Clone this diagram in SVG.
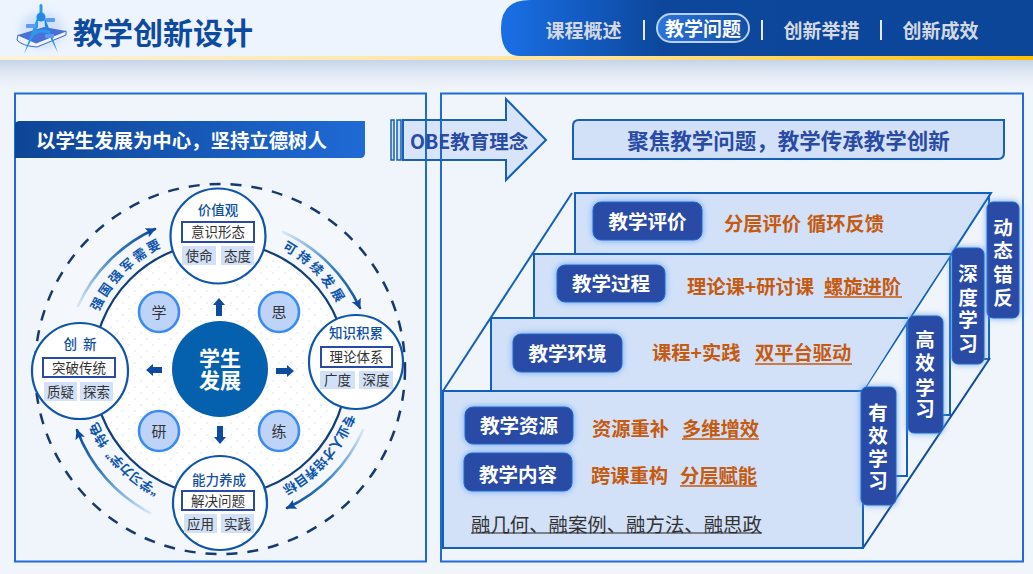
<svg xmlns="http://www.w3.org/2000/svg" xmlns:xlink="http://www.w3.org/1999/xlink" width="1033" height="574" viewBox="0 0 1033 574">
<style>
text{font-family:"Noto Sans CJK SC","Noto Sans",sans-serif;dominant-baseline:central;transform:translateY(-1px)}
.m{text-anchor:middle}
.nav{font-size:19px;font-weight:700;fill:#d3d8e2;text-anchor:middle}
.sep{stroke:#e4ecf8;stroke-width:2}
.panel{fill:none;stroke:#1f6ad6;stroke-width:2}
.face{fill:#d2e1f8;stroke:none}
.edge{fill:none;stroke:#1160bb;stroke-width:2}
.tag{fill:#2a4ba5;stroke:#1f6ac8;stroke-width:1;filter:url(#glow)}
.tagt{font-size:19.5px;font-weight:700;fill:#fff;text-anchor:middle}
.or{font-size:19.3px;font-weight:700;fill:#c55a11}
.orl{stroke:#c55a11;stroke-width:1.4}
.node{fill:#fff;stroke:#0e55ac;stroke-width:2.2}
.nt{font-size:13.5px;font-weight:500;fill:#0e4fa8;text-anchor:middle}
.box{fill:#fff;stroke:#2a4ba5;stroke-width:2}
.bt{font-size:13.5px;fill:#333;text-anchor:middle}
.chip{fill:#d2e1f8}
.small{fill:#bdd4f8;stroke:#3b8bf5;stroke-width:2.6}
.st{font-size:15px;fill:#333;text-anchor:middle}
.ar{fill:#0e4a9e}
.ring{font-size:13px;font-weight:700;fill:#0e55ac}
.arc{fill:none;stroke-width:2.6;stroke-linecap:round;marker-end:url(#head)}
</style>
<defs>
<linearGradient id="nav" x1="0" x2="1" y1="0" y2="0"><stop offset="0" stop-color="#1a6fe6"/><stop offset=".3" stop-color="#0c479c"/><stop offset="1" stop-color="#0c4699"/></linearGradient>
<linearGradient id="gold" x1="0" x2="1" y1="0" y2="0"><stop offset="0" stop-color="#fdf2d8"/><stop offset=".6" stop-color="#ffe195"/><stop offset="1" stop-color="#ffc000"/></linearGradient>
<linearGradient id="shade" x1="0" x2="0" y1="0" y2="1"><stop offset="0" stop-color="#c5d4e8"/><stop offset="1" stop-color="#f0f4fb" stop-opacity="0"/></linearGradient>
<linearGradient id="ban" x1="0" x2="1" y1="0" y2="0"><stop offset="0" stop-color="#0e4596"/><stop offset="1" stop-color="#1f6ad5"/></linearGradient>
<linearGradient id="pill" x1="0" x2="1" y1="0" y2="0"><stop offset="0" stop-color="#2c74da"/><stop offset="1" stop-color="#124fa6"/></linearGradient>
<linearGradient id="a1" gradientUnits="userSpaceOnUse" x1="78" y1="306" x2="155" y2="229"><stop offset="0" stop-color="#d6e8f8"/><stop offset=".6" stop-color="#2f7abf"/><stop offset="1" stop-color="#0e4a9e"/></linearGradient>
<linearGradient id="a2" gradientUnits="userSpaceOnUse" x1="283" y1="232" x2="360" y2="308"><stop offset="0" stop-color="#d6e8f8"/><stop offset=".6" stop-color="#2f7abf"/><stop offset="1" stop-color="#0e4a9e"/></linearGradient>
<linearGradient id="a3" gradientUnits="userSpaceOnUse" x1="363" y1="430" x2="287" y2="508"><stop offset="0" stop-color="#d6e8f8"/><stop offset=".6" stop-color="#2f7abf"/><stop offset="1" stop-color="#0e4a9e"/></linearGradient>
<linearGradient id="a4" gradientUnits="userSpaceOnUse" x1="150" y1="513" x2="77" y2="430"><stop offset="0" stop-color="#d6e8f8"/><stop offset=".6" stop-color="#2f7abf"/><stop offset="1" stop-color="#0e4a9e"/></linearGradient>
<pattern id="dots" width="12" height="12" patternUnits="userSpaceOnUse"><rect width="12" height="12" fill="#fff"/><circle cx="3" cy="3" r=".8" fill="#d3e1f3"/><circle cx="9" cy="9" r=".8" fill="#d3e1f3"/></pattern>
<filter id="glow" x="-30%" y="-30%" width="160%" height="160%"><feDropShadow dx="0" dy="0" stdDeviation="3" flood-color="#5b9cf5" flood-opacity=".9"/></filter>
<filter id="blur" x="-30%" y="-30%" width="160%" height="160%"><feGaussianBlur stdDeviation="4"/></filter>
<marker id="head" markerUnits="userSpaceOnUse" markerWidth="14" markerHeight="12" refX="9" refY="5" orient="auto"><path d="M0 0L10 5L0 10L2 5Z" fill="#0e4a9e"/></marker>
<path id="ringp" d="M220 229A140 140 0 0 1 220 509A140 140 0 0 1 220 229Z"/>
</defs>
<rect width="1033" height="574" fill="#f0f4fb"/>
<rect x="0" y="60" width="1033" height="34" fill="url(#shade)"/>
<rect x="0" y="0" width="1033" height="57" fill="#edf4fe"/>
<rect x="0" y="56" width="1033" height="4" fill="url(#gold)"/>
<g id="logo">
<ellipse cx="42" cy="30" rx="22" ry="18" fill="#c4d8fb" opacity=".7" filter="url(#blur)"/>
<path d="M18 35L44 27L66 31L36 43Z" fill="#4a70d8"/>
<path d="M18 35L36 43L66 31L66 35L37 47Q22 46 17 40Z" fill="#eef3fd" stroke="#3f66cf" stroke-width="1"/>
<path d="M38 15L24 54L38 27Z" fill="#2a9be8"/>
<path d="M44 15L58 53L45 27Z" fill="#1e86e4"/>
<path d="M32 33Q41 27 50 31L50 34Q41 30 33 36Z" fill="#2a9be8"/>
<rect x="39.500" y="4" width="3" height="10" rx="1.500" fill="#2a9be8"/>
<circle cx="41" cy="17" r="4.500" fill="#2188e6"/>
<rect x="26" y="24" width="10" height="4" rx="1" fill="#5b9cf0"/>
<rect x="46" y="18" width="9" height="4" rx="1" fill="#5b9cf0"/>
<rect x="45" y="34" width="9" height="4" rx="1" fill="#5b9cf0"/>
</g>
<text x="73" y="32" font-size="30" font-weight="700" fill="#0e4a9e">教学创新设计</text>
<g id="nav-bar">
<path d="M1033 0H530Q501 0 501 28Q501 56 520 56H1033Z" fill="url(#nav)"/>
<text class="nav" x="583.500" y="30">课程概述</text>
<line class="sep" x1="644" y1="20" x2="644" y2="40"/>
<rect x="657" y="14" width="92" height="28" rx="14" fill="url(#pill)" stroke="#b8d0f2" stroke-width="2"/>
<text class="nav" x="703" y="28.500" style="fill:#fff">教学问题</text>
<line class="sep" x1="762" y1="20" x2="762" y2="40"/>
<text class="nav" x="821.500" y="30">创新举措</text>
<line class="sep" x1="881" y1="20" x2="881" y2="40"/>
<text class="nav" x="940.500" y="30">创新成效</text>
</g>
<rect class="panel" x="15" y="93.500" width="411" height="468"/>
<rect class="panel" x="441" y="93.500" width="582" height="468"/>
<g id="banner">
<path d="M15 125Q15 121 20 121H365V153Q365 158 360 158H15Z" fill="url(#ban)"/>
<text x="36" y="140" font-size="19.400" font-weight="700" fill="#fff">以学生发展为中心，坚持立德树人</text>
</g>
<g id="obe-arrow">
<path d="M403 120H506V99L546 140L506 180V160H403Z" fill="#d2e1f8" stroke="#1560b8" stroke-width="2" fill-opacity=".85"/>
<rect x="391" y="120" width="3" height="40" fill="#d2e1f8" stroke="#1560b8" stroke-width="1.500"/>
<rect x="397" y="120" width="4" height="40" fill="#d2e1f8" stroke="#1560b8" stroke-width="1.500"/>
<line x1="426" y1="120" x2="426" y2="160" stroke="#1f6ad6" stroke-width="2"/>
<line x1="441" y1="120" x2="441" y2="160" stroke="#1f6ad6" stroke-width="2"/>
<text x="410" y="141" font-size="19.500" font-weight="700" fill="#2a4ba5">OBE教育理念</text>
</g>
<g id="subtitle">
<path d="M579 120H1004V153Q1004 159 998 159H573V126Q573 120 579 120Z" fill="#d2e1f8" stroke="#1560b8" stroke-width="2"/>
<text class="m" x="788.500" y="140" font-size="21.500" font-weight="700" fill="#2a4ba5">聚焦教学问题，教学传承教学创新</text>
</g>
<g id="wheel">
<circle cx="220" cy="369" r="185" fill="#f4f7fc" stroke="#16396f" stroke-width="2.500" stroke-dasharray="11 10"/>
<circle cx="220" cy="369" r="127" fill="url(#dots)" stroke="#123f7a" stroke-width="2.200"/>
</g>
<g id="ring-arrows">
<path class="arc" stroke="url(#a1)" d="M78 306A155 155 0 0 1 155 229"/>
<path class="arc" stroke="url(#a2)" d="M283 232A155 155 0 0 1 360 308"/>
<path class="arc" stroke="url(#a3)" d="M363 430A155 155 0 0 1 287 508"/>
<path class="arc" stroke="url(#a4)" d="M150 513A155 155 0 0 1 77 430"/>
<text class="ring m" letter-spacing="3.500"><textPath xlink:href="#ringp" href="#ringp" startOffset="770">强国强军需要</textPath></text>
<text class="ring m" letter-spacing="4"><textPath xlink:href="#ringp" href="#ringp" startOffset="110">可持续发展</textPath></text>
<text class="ring m"><textPath xlink:href="#ringp" href="#ringp" startOffset="320">专业人才培养目标</textPath></text>
<text class="ring m"><textPath xlink:href="#ringp" href="#ringp" startOffset="550">“学习力学”特色</textPath></text>
</g>
<g id="center"><circle cx="220" cy="369" r="48" fill="#0560ae"/><text class="m" x="220" y="358" font-size="21" font-weight="700" fill="#fff">学生</text><text class="m" x="220" y="380" font-size="21" font-weight="700" fill="#fff">发展</text></g>
<g id="center-arrows">
<path class="ar" d="M219 298L225 305H222V316H216V305H213Z"/>
<path class="ar" d="M294 371L287 377V374H276V368H287V365Z"/>
<path class="ar" d="M220 444L214 437H217V426H223V437H226Z"/>
<path class="ar" d="M146 370L153 364V367H162V373H153V376Z"/>
</g>
<g id="xue"><circle class="small" cx="159" cy="312" r="20"/><text class="st" x="159" y="312.500">学</text></g>
<g id="si"><circle class="small" cx="279" cy="312" r="20"/><text class="st" x="279" y="312.500">思</text></g>
<g id="yan"><circle class="small" cx="159" cy="431" r="20"/><text class="st" x="159" y="431.500">研</text></g>
<g id="lian"><circle class="small" cx="279" cy="431" r="20"/><text class="st" x="279" y="431.500">练</text></g>
<g id="jiazhiguan"><circle class="node" cx="218" cy="236" r="47.500"/><text class="nt" x="218" y="210">价值观</text><rect class="box" x="182" y="222" width="72" height="20"/><text class="bt" x="218" y="232">意识形态</text><rect class="chip" x="182" y="246" width="34" height="19"/><text class="bt" x="199" y="255.500">使命</text><rect class="chip" x="221" y="246" width="33" height="19"/><text class="bt" x="237.500" y="255.500">态度</text></g>
<g id="zhishi"><circle class="node" cx="356" cy="362" r="47"/><text class="nt" x="356" y="333">知识积累</text><rect class="box" x="321" y="347" width="71" height="20"/><text class="bt" x="356.500" y="357">理论体系</text><rect class="chip" x="320" y="371" width="35" height="18"/><text class="bt" x="337.500" y="380">广度</text><rect class="chip" x="359" y="371" width="34" height="18"/><text class="bt" x="376" y="380">深度</text></g>
<g id="nengli"><circle class="node" cx="220" cy="503" r="47"/><text class="nt" x="219" y="480">能力养成</text><rect class="box" x="182" y="491" width="72" height="19"/><text class="bt" x="218" y="500.500">解决问题</text><rect class="chip" x="184" y="514" width="33" height="19"/><text class="bt" x="200.500" y="523.500">应用</text><rect class="chip" x="221" y="514" width="33" height="19"/><text class="bt" x="237.500" y="523.500">实践</text></g>
<g id="chuangxin"><circle class="node" cx="80" cy="371" r="48"/><text class="nt" x="80" y="344" xml:space="preserve">创  新</text><rect class="box" x="43" y="358" width="72" height="19"/><text class="bt" x="79" y="367.500">突破传统</text><rect class="chip" x="44" y="382" width="33" height="19"/><text class="bt" x="60.500" y="391.500">质疑</text><rect class="chip" x="80" y="382" width="33" height="19"/><text class="bt" x="96.500" y="391.500">探索</text></g>
<g id="connectors">
<path class="edge" d="M989 193V359H984"/>
<path class="edge" d="M950 253V415H940"/>
<path class="edge" d="M907 317V476H894"/>
<path d="M863 548L990 358" fill="none" stroke="#0e4a9e" stroke-width="2"/>
<path d="M572 193L443 391" fill="none" stroke="#1160bb" stroke-width="2"/>
</g>
<g id="layers">
<path class="face" d="M575 193H990L951 254H575Z"/>
<path class="edge" d="M575 254V193H991L863 391"/>
<path class="face" d="M534 254H951L909 318H534Z"/>
<path class="edge" d="M534 318V254H951"/>
<path class="face" d="M491 318H909L863 391H491Z"/>
<path class="edge" d="M491 391V318H908"/>
<rect x="443" y="391" width="420" height="157" fill="#d2e1f8" stroke="#1160bb" stroke-width="2"/>
</g>
<g id="pingjia"><rect class="tag" x="593" y="202" width="109" height="38" rx="8"/><text class="tagt" x="647.500" y="221">教学评价</text><text class="or" x="724" y="224">分层评价</text><text class="or" x="807" y="224">循环反馈</text></g>
<g id="guocheng"><rect class="tag" x="557" y="265" width="108" height="37" rx="8"/><text class="tagt" x="611" y="283.500">教学过程</text><text class="or" x="687" y="287">理论课+研讨课</text><text class="or" x="824" y="287">螺旋进阶</text><line class="orl" x1="824" y1="297" x2="902" y2="297"/></g>
<g id="huanjing"><rect class="tag" x="513" y="334" width="109" height="38" rx="8"/><text class="tagt" x="567.500" y="353">教学环境</text><text class="or" x="652" y="353">课程+实践</text><text class="or" x="755" y="353">双平台驱动</text><line class="orl" x1="755" y1="364" x2="852" y2="364"/></g>
<g id="ziyuan"><rect class="tag" x="465" y="407" width="108" height="37" rx="8"/><text class="tagt" x="519" y="425.500">教学资源</text><text class="or" x="592" y="429">资源重补</text><text class="or" x="682" y="429">多维增效</text><line class="orl" x1="682" y1="439" x2="759" y2="439"/></g>
<g id="neirong"><rect class="tag" x="464" y="453" width="108" height="38" rx="8"/><text class="tagt" x="518" y="474">教学内容</text><text class="or" x="591" y="476">跨课重构</text><text class="or" x="680" y="476">分层赋能</text><line class="orl" x1="680" y1="486" x2="757" y2="486"/></g>
<g id="rong"><text x="471" y="524" font-size="19.400" fill="#333">融几何、融案例、融方法、融思政</text><line x1="471" y1="533" x2="762" y2="533" stroke="#222" stroke-width="1.200"/></g>
<g id="dongtai"><rect class="tag" x="987" y="202" width="32" height="116" rx="6"/><text class="tagt" x="1003" y="227">动</text><text class="tagt" x="1003" y="250">态</text><text class="tagt" x="1003" y="274">错</text><text class="tagt" x="1003" y="297">反</text></g>
<g id="shendu"><rect class="tag" x="952" y="248" width="32" height="116" rx="6"/><text class="tagt" x="968" y="273">深</text><text class="tagt" x="968" y="297">度</text><text class="tagt" x="968" y="319">学</text><text class="tagt" x="968" y="343">习</text></g>
<g id="gaoxiao"><rect class="tag" x="908" y="316" width="35" height="117" rx="6"/><text class="tagt" x="925" y="339">高</text><text class="tagt" x="925" y="362">效</text><text class="tagt" x="925" y="387">学</text><text class="tagt" x="925" y="408">习</text></g>
<g id="youxiao"><rect class="tag" x="861" y="387" width="35" height="118" rx="6"/><text class="tagt" x="878" y="412">有</text><text class="tagt" x="878" y="435">效</text><text class="tagt" x="878" y="458">学</text><text class="tagt" x="878" y="480">习</text></g>
</svg>
